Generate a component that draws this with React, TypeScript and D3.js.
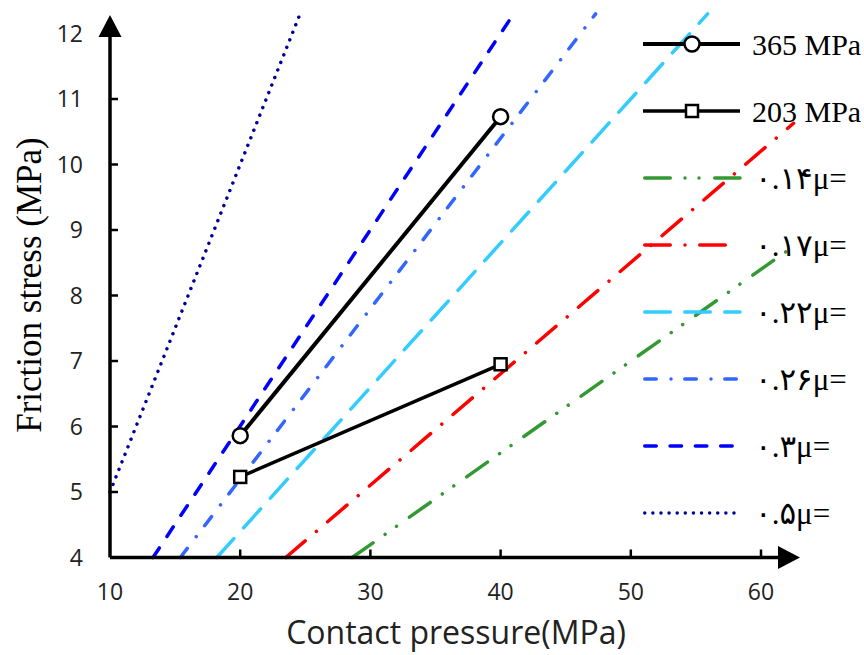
import * as d3 from "d3";

const width = 864;
const height = 655;

// friction coefficient lines (start / end)
const muLabels = ["۰.۱۴μ=", "۰.۱۷μ=", "۰.۲۲μ=", "۰.۲۶μ=", "۰.۳μ=", "۰.۵μ="];
const muColors = ["#339933", "#ff0000", "#33ccff", "#3366ff", "#0000ff", "#000099"];
const muDashes = [
  "25.5,14.75,0.01,14,0.01,15.75",
  "25.5,14.75,0.01,14.75",
  "25.5,14.5",
  "11.5,14.75,0.01,13.75",
  "11.5,13.8",
  "0.01,8.1",
];
const muPressStart = [28.6, 23.5, 18.2, 15.4, 13.3, 10];
const muStressStart = [4, 4, 4, 4, 4, 5];
const muPressEnd = [62.5, 62.5, 55.9, 47.3, 41, 24.6];
const muStressEnd = [8.75, 10.63, 12.3, 12.3, 12.3, 12.3];

// measured series
const seriesLabels = ["365 MPa", "203 MPa"];
const pressures = [20, 40];
const stress365 = [5.86, 10.73];
const stress203 = [5.23, 6.95];

const xTicks = [10, 20, 30, 40, 50, 60];
const yTicks = [4, 5, 6, 7, 8, 9, 10, 11, 12];

const x0 = 110;
const yBase = 557.5;

function App() {
  const x = d3.scaleLinear().domain([10, 60]).range([x0, 761]);
  const y = d3.scaleLinear().domain([4, 12]).range([yBase, 33.5]);
  const line = d3
    .line<[number, number]>()
    .x((d) => x(d[0]))
    .y((d) => y(d[1]));

  const legendY = (i: number) => 44 + i * 67;
  const legX1 = 643;
  const legX2 = 740;

  return (
    <svg
      width={width}
      height={height}
      style={{ position: "absolute", left: 0, top: 0, background: "#fff" }}
    >
      {/* mu lines */}
      {muLabels.map((m, i) => (
        <path
          key={m}
          d={
            line([
              [muPressStart[i], muStressStart[i]],
              [muPressEnd[i], muStressEnd[i]],
            ]) as string
          }
          fill="none"
          stroke={muColors[i]}
          strokeWidth={3.5}
          strokeLinecap="round"
          strokeDasharray={muDashes[i]}
        />
      ))}

      {/* axes */}
      <line x1={x0} y1={yBase} x2={782} y2={yBase} stroke="#000" strokeWidth={3.5} />
      <path d={`M800,${yBase} L778,${yBase - 11.5} L778,${yBase + 11.5} Z`} fill="#000" />
      <line x1={x0} y1={yBase} x2={x0} y2={34} stroke="#000" strokeWidth={3.5} />
      <path d={`M${x0},15 L${x0 - 11.5},37 L${x0 + 11.5},37 Z`} fill="#000" />

      {xTicks.map((t) => (
        <g key={"x" + t}>
          {t > 10 && (
            <line x1={x(t)} x2={x(t)} y1={yBase} y2={yBase - 8} stroke="#000" strokeWidth={2.5} />
          )}
          <text
            x={x(t)}
            y={600}
            textAnchor="middle"
            fontFamily="'Open Sans', sans-serif"
            fontSize={23}
            fill="#222"
          >
            {t}
          </text>
        </g>
      ))}
      {yTicks.map((t) => (
        <g key={"y" + t}>
          {t > 4 && t < 12 && (
            <line x1={x0} x2={x0 + 8} y1={y(t)} y2={y(t)} stroke="#000" strokeWidth={2.5} />
          )}
          <text
            x={83}
            y={y(t)}
            dy="0.36em"
            textAnchor="end"
            fontFamily="'Open Sans', sans-serif"
            fontSize={23}
            fill="#222"
          >
            {t}
          </text>
        </g>
      ))}

      <text
        x={456}
        y={644}
        textAnchor="middle"
        fontFamily="'Open Sans', sans-serif"
        fontSize={32}
        fill="#222"
      >
        Contact pressure(MPa)
      </text>
      <text
        transform="translate(41,285) rotate(-90)"
        textAnchor="middle"
        fontFamily="'Liberation Serif', 'Times New Roman', serif"
        fontSize={35}
        fill="#000"
      >
        Friction stress (MPa)
      </text>

      {/* measured series */}
      <path
        d={line(pressures.map((p, i) => [p, stress365[i]]) as [number, number][]) as string}
        fill="none"
        stroke="#000"
        strokeWidth={4}
      />
      <path
        d={line(pressures.map((p, i) => [p, stress203[i]]) as [number, number][]) as string}
        fill="none"
        stroke="#000"
        strokeWidth={3.5}
      />
      {pressures.map((p, i) => (
        <circle key={"c" + i} cx={x(p)} cy={y(stress365[i])} r={7.5} fill="#fff" stroke="#000" strokeWidth={2.5} />
      ))}
      {pressures.map((p, i) => (
        <rect
          key={"s" + i}
          x={x(p) - 6}
          y={y(stress203[i]) - 6}
          width={12}
          height={12}
          fill="#fff"
          stroke="#000"
          strokeWidth={2.5}
        />
      ))}

      {/* legend */}
      {seriesLabels.map((s, i) => (
        <g key={s}>
          <line x1={legX1} x2={legX2} y1={legendY(i)} y2={legendY(i)} stroke="#000" strokeWidth={i === 0 ? 4 : 3.5} />
          {i === 0 ? (
            <circle cx={692} cy={legendY(i)} r={7.5} fill="#fff" stroke="#000" strokeWidth={2.5} />
          ) : (
            <rect x={686} y={legendY(i) - 6} width={12} height={12} fill="#fff" stroke="#000" strokeWidth={2.5} />
          )}
          <text
            x={752}
            y={legendY(i) + 11}
            fontFamily="'Liberation Serif', 'Times New Roman', serif"
            fontSize={30}
            fill="#000"
          >
            {s}
          </text>
        </g>
      ))}
      {muLabels.map((m, i) => (
        <g key={"l" + m}>
          <line
            x1={legX1 + 1.75}
            x2={legX2}
            y1={legendY(i + 2)}
            y2={legendY(i + 2)}
            stroke={muColors[i]}
            strokeWidth={3.5}
            strokeLinecap="round"
            strokeDasharray={muDashes[i]}
          />
          <text
            x={755}
            y={legendY(i + 2) + 11}
            fontFamily="'Liberation Serif', 'DejaVu Sans', serif"
            fontSize={31}
            fill="#000"
          >
            {m}
          </text>
        </g>
      ))}
    </svg>
  );
}

export default App;
